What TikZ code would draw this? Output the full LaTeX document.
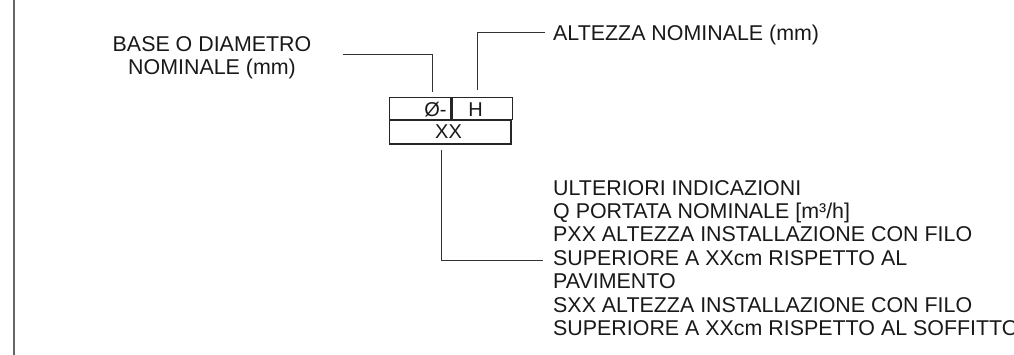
\documentclass[tikz,border=0pt]{standalone}
\usepackage{fontspec}
\setmainfont{Liberation Sans}
\begin{document}
\begin{tikzpicture}[x=1pt,y=-1pt,
  lbl/.style={inner sep=0pt, text=black!90, font=\fontsize{21.4}{23.45}\selectfont},
  lbltwo/.style={inner sep=0pt, text=black!90, font=\fontsize{21.4}{22.8}\selectfont},
  boxtxt/.style={inner sep=0pt, text=black!90, font=\fontsize{20}{22}\selectfont},
  cellbox/.style={draw=black!85, line width=1.2pt, inner sep=0pt},
  leader/.style={draw=black!80, line width=0.9pt},
  border/.style={draw=black!60, line width=2pt}]
\useasboundingbox (0,0) rectangle (1014,355);
\clip (0,0) rectangle (1014,355);
% left border
\coordinate (bt) at (14,0);
\coordinate (bb) at (14,355);
\draw[border] (bt) -- (bb);
% box
\node[cellbox, minimum width=61.3pt, minimum height=22.3pt, anchor=north west] (c1) at (389,96.7) {};
\node[cellbox, minimum width=60pt, minimum height=22.3pt, anchor=north west] (c2) at (c1.north east) {};
\node[cellbox, minimum width=121.3pt, minimum height=23.3pt, anchor=north west] (c3) at (c1.south west) {};
\node[boxtxt, anchor=base east] (phi) at (446.7,116.2) {Ø-};
\node[boxtxt, anchor=base] (hh) at (475.5,116.2) {H};
\node[boxtxt, anchor=base] (xx) at (448.5,138.3) {XX};
% labels
\node[lbl, anchor=base west] (alt) at (553,40.5) {ALTEZZA NOMINALE (mm)};
\node[lbltwo, align=center, anchor=base] (base) at (212,74.3) {BASE O DIAMETRO\\NOMINALE (mm)};
\node[lbl, align=left, anchor=base west] (ult) at (553,335.7) {ULTERIORI INDICAZIONI\\Q PORTATA NOMINALE [m³/h]\\PXX ALTEZZA INSTALLAZIONE CON FILO\\SUPERIORE A XXcm RISPETTO AL\\PAVIMENTO\\SXX ALTEZZA INSTALLAZIONE CON FILO\\SUPERIORE A XXcm RISPETTO AL SOFFITTO};
% leaders
\coordinate (bl) at (343,54.3);
\coordinate (bd) at (432.7,91.7);
\draw[leader] (bl) -| (bd);
\coordinate (hb) at (477.3,90);
\coordinate (ht) at (545,32.3);
\draw[leader] (hb) |- (ht);
\coordinate (xb) at (441.5,150);
\coordinate (xe) at (543.3,260.7);
\draw[leader] (xb) |- (xe);
\end{tikzpicture}
\end{document}
